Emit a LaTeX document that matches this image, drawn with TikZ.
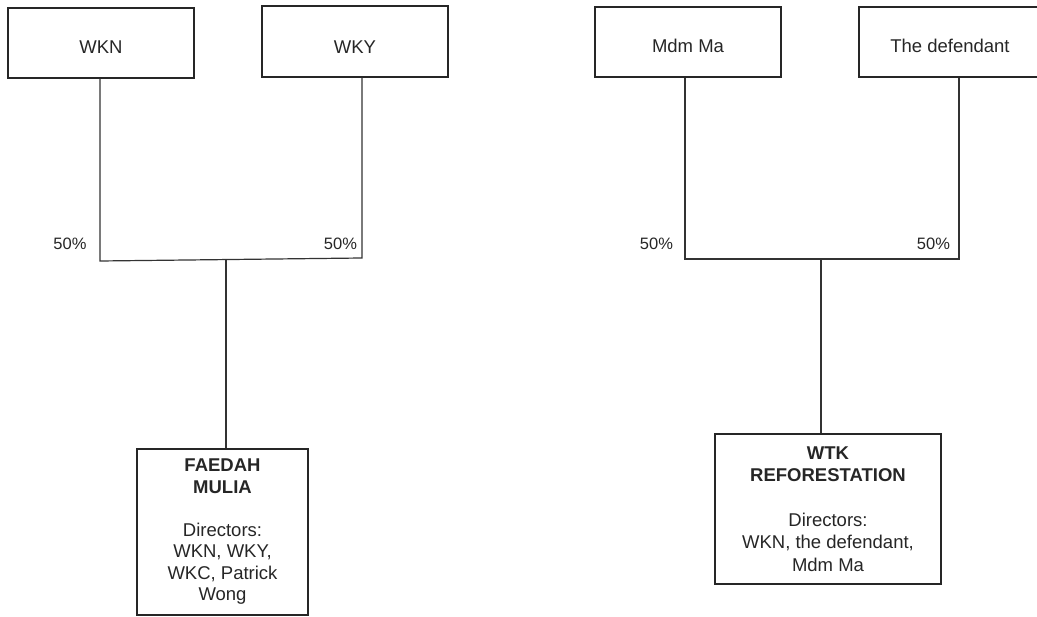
\documentclass[tikz,border=0pt]{standalone}
\usepackage{fontspec}
\setmainfont{Liberation Sans}
\begin{document}
\begin{tikzpicture}[x=1pt,y=-1pt,
  box/.style={draw=black!85, line width=1.2pt, minimum width=186pt, minimum height=70pt,
    inner sep=0pt, text height=21pt, text depth=0pt, font=\fontsize{18.5}{22}\selectfont, text=black!85},
  cobox/.style={draw=black!85, line width=1.2pt, inner sep=0pt, align=center,
    font=\fontsize{18.5}{21.5}\selectfont, text=black!85},
  conn/.style={draw=black!80, line width=1.2pt},
  pct/.style={font=\fontsize{16.5}{20}\selectfont, anchor=base, text=black!85, inner sep=0pt}]
\clip (0,0) rectangle (1037,617);
% top boxes
\node[box] (wkn) at (101,43) {WKN};
\node[box, minimum height=71pt, text height=24pt] (wky) at (355,41.5) {WKY};
\node[box] (ma) at (688,42) {Mdm Ma};
\node[box, minimum width=182pt] (def) at (950,42) {The defendant};
% company boxes
\node[cobox, minimum width=171pt, minimum height=166pt] (fm) at (222.5,532)
  {\bfseries FAEDAH\\\bfseries MULIA\\[21.5pt]Directors:\\WKN, WKY,\\WKC, Patrick\\Wong};
\node[cobox, minimum width=226pt, minimum height=150pt, font=\fontsize{18.5}{22.5}\selectfont] (wtk) at (828,509)
  {\bfseries WTK\\\bfseries REFORESTATION\\[22pt]Directors:\\WKN, the defendant,\\Mdm Ma};
% junctions
\coordinate (a1) at (100,261);
\coordinate (a2) at (362,258);
\coordinate (am) at (226,259.6);
\coordinate (b1) at (685,259);
\coordinate (b2) at (959,259);
\coordinate (bm) at (821,259);
% connectors
\draw[conn] (wkn.south -| a1) -- (a1) -- (a2) -- (wky.south -| a2);
\draw[conn] (am) -- (fm.north -| am);
\draw[conn] (ma.south -| b1) -- (b1) -- (b2) -- (def.south -| b2);
\draw[conn] (bm) -- (wtk.north -| bm);
% percentages
\node[pct] (p1) at (70,250) {50\%};
\node[pct] (p2) at (340.5,250) {50\%};
\node[pct] (p3) at (656.5,250) {50\%};
\node[pct] (p4) at (933.5,250) {50\%};
\end{tikzpicture}
\end{document}
